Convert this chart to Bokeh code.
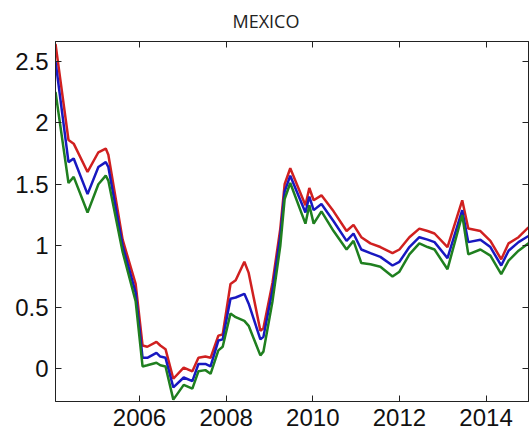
from bokeh.plotting import figure
from bokeh.models import Range1d, LinearAxis, FixedTicker, CustomJSTickFormatter
from bokeh.embed import file_html
from bokeh.resources import INLINE

# Time axis (fractional years) and the three series
years = [2004.06, 2004.36, 2004.48, 2004.80, 2005.05, 2005.22, 2005.28, 2005.61,
         2005.91, 2006.07, 2006.18, 2006.39, 2006.48, 2006.60, 2006.78, 2007.02,
         2007.22, 2007.36, 2007.52, 2007.64, 2007.82, 2007.92, 2008.10, 2008.22,
         2008.42, 2008.52, 2008.79, 2008.86, 2009.07, 2009.25, 2009.35, 2009.48,
         2009.83, 2009.92, 2010.02, 2010.20, 2010.48, 2010.78, 2010.94, 2011.12,
         2011.33, 2011.56, 2011.84, 2012.00, 2012.23, 2012.46, 2012.65, 2012.81,
         2013.11, 2013.45, 2013.59, 2013.87, 2014.10, 2014.35, 2014.52, 2014.75,
         2014.98]

red_series = [2.64, 1.86, 1.83, 1.60, 1.76, 1.79, 1.74, 1.05,
              0.69, 0.19, 0.18, 0.22, 0.19, 0.16, -0.08, 0.01,
              -0.02, 0.09, 0.10, 0.09, 0.27, 0.28, 0.69, 0.72,
              0.87, 0.78, 0.31, 0.33, 0.70, 1.14, 1.50, 1.63,
              1.33, 1.47, 1.37, 1.41, 1.28, 1.12, 1.17, 1.07,
              1.02, 0.99, 0.94, 0.97, 1.07, 1.14, 1.12, 1.10,
              0.99, 1.37, 1.14, 1.12, 1.04, 0.89, 1.02, 1.07,
              1.15]

blue_series = [2.50, 1.68, 1.71, 1.42, 1.64, 1.68, 1.64, 1.00,
               0.62, 0.09, 0.09, 0.13, 0.10, 0.09, -0.15, -0.07,
               -0.10, 0.04, 0.04, 0.02, 0.23, 0.24, 0.57, 0.58,
               0.61, 0.53, 0.24, 0.26, 0.64, 1.08, 1.44, 1.57,
               1.27, 1.40, 1.29, 1.34, 1.20, 1.04, 1.10, 0.97,
               0.94, 0.91, 0.84, 0.87, 0.99, 1.07, 1.05, 1.03,
               0.90, 1.29, 1.03, 1.05, 0.99, 0.84, 0.96, 1.03,
               1.08]

green_series = [2.25, 1.51, 1.56, 1.27, 1.50, 1.57, 1.53, 0.95,
                0.55, 0.02, 0.03, 0.05, 0.03, 0.02, -0.25, -0.13,
                -0.16, -0.02, -0.01, -0.04, 0.15, 0.18, 0.45, 0.42,
                0.39, 0.35, 0.11, 0.14, 0.55, 1.00, 1.38, 1.51,
                1.18, 1.33, 1.18, 1.28, 1.12, 0.97, 1.04, 0.86,
                0.85, 0.83, 0.75, 0.79, 0.93, 1.02, 0.99, 0.97,
                0.81, 1.25, 0.93, 0.97, 0.92, 0.77, 0.88, 0.96,
                1.02]

x_ticks = [2006, 2008, 2010, 2012, 2014]
y_ticks = [0, 0.5, 1, 1.5, 2, 2.5]

p = figure(width=529, height=441, output_backend="svg", toolbar_location=None,
           x_range=Range1d(2004.06, 2014.98), y_range=Range1d(-0.265, 2.66),
           min_border_left=55, min_border_right=1, min_border_top=41,
           min_border_bottom=40, x_axis_location=None, y_axis_location=None)

p.background_fill_color = "white"
p.border_fill_color = "white"
p.outline_line_color = "#222222"
p.outline_line_width = 1
p.xgrid.visible = False
p.ygrid.visible = False

# Heading: left-aligned with an offset so it sits centred over the canvas;
# a large standoff lifts it towards the top edge
p.title.text = "MEXICO"
p.title.align = "left"
p.title.offset = 177
p.title.vertical_align = "top"
p.title.standoff = 14
p.title.text_font = "Open Sans"
p.title.text_font_size = "18px"
p.title.text_font_style = "normal"
p.title.text_color = "#222222"

fmt = CustomJSTickFormatter(code="return tick.toString();")
blank = CustomJSTickFormatter(code="return '';")


def style_axis(ax, show_labels, standoff):
    ax.axis_line_color = "#222222"
    ax.major_tick_line_color = "#222222"
    ax.major_tick_in = 6
    ax.major_tick_out = 0
    ax.minor_tick_line_color = None
    ax.major_label_standoff = standoff
    if show_labels:
        ax.major_label_text_font = "Liberation Sans"
        ax.major_label_text_font_size = "24px"
        ax.major_label_text_color = "#111111"


xb = LinearAxis(ticker=FixedTicker(ticks=x_ticks), formatter=fmt)
style_axis(xb, True, 7)
p.add_layout(xb, "below")

yl = LinearAxis(ticker=FixedTicker(ticks=y_ticks), formatter=fmt)
style_axis(yl, True, 7)
p.add_layout(yl, "left")

# Mirror ticks along the top and right edges of the box (no labels)
xt = LinearAxis(ticker=FixedTicker(ticks=x_ticks), formatter=blank)
style_axis(xt, False, 0)
p.add_layout(xt, "above")

yr = LinearAxis(ticker=FixedTicker(ticks=y_ticks), formatter=blank)
style_axis(yr, False, 0)
p.add_layout(yr, "right")

p.line(years, red_series, line_color="#d02020", line_width=2.5)
p.line(years, blue_series, line_color="#1818c0", line_width=2.5)
p.line(years, green_series, line_color="#1f7f1f", line_width=2.5)

open("out.html", "w").write(file_html(p, INLINE))
